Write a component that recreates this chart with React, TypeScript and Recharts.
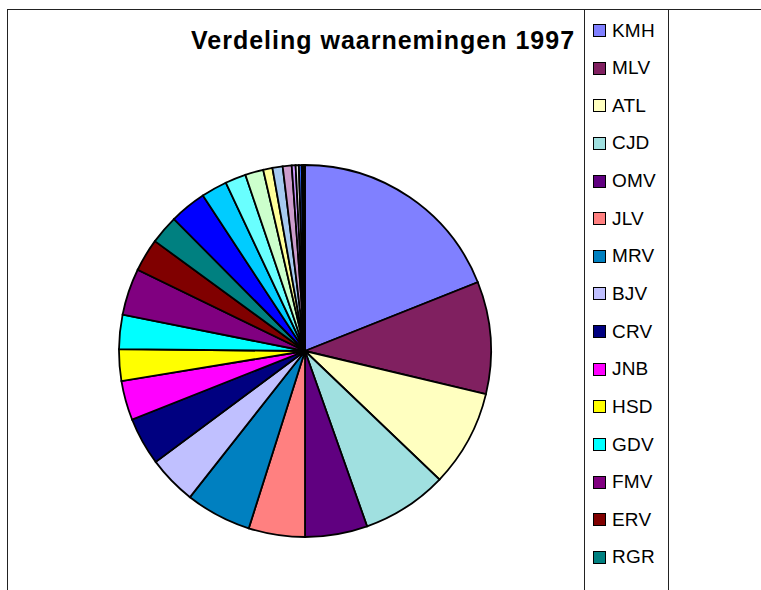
import { PieChart, Pie, Cell, Legend } from 'recharts';

const WIDTH = 761;
const HEIGHT = 590;

// observers (codes) in legend order
const observers = [
  'KMH', 'MLV', 'ATL', 'CJD', 'OMV', 'JLV', 'MRV', 'BJV', 'CRV', 'JNB',
  'HSD', 'GDV', 'FMV', 'ERV', 'RGR', 'WNV', 'PDB', 'HKV', 'AVD', 'TBR',
  'LSV', 'GMR', 'DKV', 'EVB', 'RVL', 'SWK', 'BHN',
];

const observations = [
  683, 351, 303, 268, 195, 176, 206, 152, 150, 123,
  99, 107, 146, 103, 90, 115, 81, 65, 57, 29,
  32, 28, 12, 10, 9, 5, 5,
];

const COLORS = [
  '#8080ff', '#802060', '#ffffc0', '#a0e0e0', '#600080', '#ff8080', '#0080c0', '#c0c0ff', '#000080', '#ff00ff',
  '#ffff00', '#00ffff', '#800080', '#800000', '#008080', '#0000ff', '#00ccff', '#69ffff', '#ccffcc', '#ffff99',
  '#a6caf0', '#cc9ccc', '#cc99ff', '#e3e3e3', '#3366ff', '#33cccc', '#339933',
];

const data = observers.map((name, i) => ({ name, value: observations[i] }));

const ROW = 37.64;

// only the rows that fit inside the chart are shown (the rest falls off the bottom)
const LegendBox = () => (
  <div style={{ position: 'relative', width: 83, height: 581 }}>
    {data.map((entry, i) => {
      const cy = 21.5 + i * ROW;
      if (cy + 10 > 581) return null;
      return (
        <div key={entry.name} style={{ position: 'absolute', left: 0, top: cy - 9, height: 18, display: 'flex', alignItems: 'center' }}>
          <div
            style={{
              marginLeft: 8,
              width: 11,
              height: 11,
              background: COLORS[i],
              border: '1.5px solid #000',
            }}
          />
          <span
            style={{
              marginLeft: 6,
              fontSize: 19,
              letterSpacing: 0.2,
              fontFamily: 'Arial, "Liberation Sans", sans-serif',
              color: '#000',
              lineHeight: '18px',
            }}
          >
            {entry.name}
          </span>
        </div>
      );
    })}
  </div>
);

const App = () => {
  return (
    <div style={{ position: 'absolute', left: 0, top: 0, width: WIDTH, height: HEIGHT, overflow: 'hidden', background: '#fff' }}>
      <div style={{ position: 'absolute', left: 7, top: 9, width: 800, height: 700, borderTop: '1px solid #222', borderLeft: '1px solid #222' }} />
      <div style={{ position: 'absolute', left: 584, top: 9, width: 83, height: 700, borderLeft: '1px solid #222', borderRight: '1px solid #222' }} />
      <div
        style={{
          position: 'absolute',
          left: 0,
          top: 26,
          width: 766,
          textAlign: 'center',
          fontFamily: 'Arial, "Liberation Sans", sans-serif',
          fontWeight: 'bold',
          fontSize: 25,
          letterSpacing: 1,
          color: '#000',
        }}
      >
        Verdeling waarnemingen 1997
      </div>
      <div style={{ position: 'absolute', left: 0, top: 0 }}>
        <PieChart width={WIDTH} height={HEIGHT} margin={{ top: 0, right: 0, bottom: 0, left: 0 }}>
          <Pie
            data={data}
            dataKey="value"
            nameKey="name"
            cx={305}
            cy={351}
            outerRadius={186}
            startAngle={90}
            endAngle={-270}
            stroke="#000"
            strokeWidth={1.8}
            isAnimationActive={false}
          >
            {data.map((entry, i) => (
              <Cell key={entry.name} fill={COLORS[i]} />
            ))}
          </Pie>
          <Legend
            layout="vertical"
            align="right"
            verticalAlign="top"
            content={<LegendBox />}
            wrapperStyle={{ position: 'absolute', left: 585, top: 9, width: 83 }}
          />
        </PieChart>
      </div>
    </div>
  );
};

export default App;
